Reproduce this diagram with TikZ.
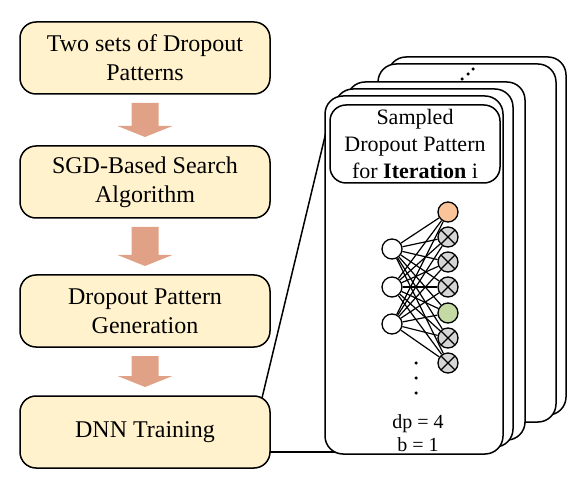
\documentclass[tikz,border=0pt]{standalone}
\usepackage{fontspec}
\setmainfont{Liberation Serif}
\usetikzlibrary{calc}
\definecolor{boxfill}{HTML}{FFF2CC}
\definecolor{arrowc}{HTML}{E0A186}
\definecolor{outorange}{HTML}{F9C49A}
\definecolor{outgreen}{HTML}{C4D9A3}
\definecolor{outgray}{HTML}{D6D6D6}
\newcommand\blockarrow[2]{%
  \fill[arrowc] let \p1=(#1.south), \p2=(#2.north) in
    (\x1-13.5pt,\y1-9pt) -- (\x1+13.5pt,\y1-9pt) -- (\x1+13.5pt,\y2+20pt) --
    (\x1+27.5pt,\y2+20pt) -- (\x1,\y2+9pt) -- (\x1-27.5pt,\y2+20pt) --
    (\x1-13.5pt,\y2+20pt) -- cycle;}
\begin{document}
\begin{tikzpicture}[x=1pt,y=-1pt,
  stepbox/.style={draw, line width=1.5pt, fill=boxfill, rounded corners=16pt,
    minimum width=250pt, minimum height=72pt, inner sep=0pt, outer sep=0pt,
    align=center, font=\fontsize{24}{29}\selectfont},
  card/.style={draw, line width=1.5pt, fill=white, rounded corners=18pt,
    minimum width=178pt, minimum height=358pt, inner sep=0pt, outer sep=0pt},
  header/.style={draw, line width=1.5pt, fill=white, rounded corners=16pt,
    minimum width=170pt, minimum height=78pt, inner sep=0pt, outer sep=0pt,
    align=center, font=\fontsize{22}{27}\selectfont},
  neuron/.style={circle, draw, line width=1.3pt, minimum size=20pt, inner sep=0pt},
  crossed/.style={neuron, fill=outgray, path picture={
    \draw[line width=1.3pt] (path picture bounding box.north west) -- (path picture bounding box.south east)
      (path picture bounding box.north east) -- (path picture bounding box.south west);}},
  conn/.style={line width=1.5pt},
  edge/.style={line width=1.2pt},
  dotc/.style={circle, fill=black, inner sep=0pt, minimum size=3.5pt}
]
\useasboundingbox (0,0) rectangle (581,486);

% connector lines (behind cards)
\coordinate (c1) at (262,398);
\coordinate (c2) at (327,128);
\coordinate (c3) at (268,452);
\coordinate (c4) at (345,452);
\draw[conn] (c1) -- (c2);
\draw[conn] (c3) -- (c4);

% left flow
\node[stepbox] (s1) at (145,58) {Two sets of Dropout\\Patterns};
\node[stepbox] (s2) at (145,182) {SGD-Based Search\\Algorithm};
\node[stepbox] (s3) at (145,311) {Dropout Pattern\\Generation};
\node[stepbox] (s4) at (145,432) {DNN Training};
\blockarrow{s1}{s2}
\blockarrow{s2}{s3}
\blockarrow{s3}{s4}

% stacked cards
\node[card] (b0) at (477,236) {};
\node[card] (b1) at (467,243) {};
\node[dotc] (d1) at (462,79) {};
\node[dotc] (d2) at (468,74) {};
\node[dotc] (d3) at (473,69) {};
\node[card] (f2) at (436,261) {};
\node[card] (f1) at (424,268) {};
\node[card] (f0) at (414,275) {};
\node[header] (hd) at (415,144) {Sampled\\Dropout Pattern\\for \textbf{Iteration} i};

% network
\node[neuron, fill=white] (i1) at (392,249) {};
\node[neuron, fill=white] (i2) at (392,287) {};
\node[neuron, fill=white] (i3) at (392,324) {};
\node[neuron, fill=outorange] (o1) at (448,212) {};
\node[crossed] (o2) at (448,237) {};
\node[crossed] (o3) at (448,262) {};
\node[crossed] (o4) at (448,287) {};
\node[neuron, fill=outgreen] (o5) at (448,313) {};
\node[crossed] (o6) at (448,338) {};
\node[crossed] (o7) at (448,363) {};
\foreach \i in {1,2,3}{\foreach \o in {1,...,7}{\draw[edge] (i\i) -- (o\o);}}

\node[dotc] (v1) at (416,363) {};
\node[dotc] (v2) at (416,378) {};
\node[dotc] (v3) at (416,393) {};
\node[align=center, font=\fontsize{20}{23}\selectfont] (dp) at (418,433) {dp = 4\\b = 1};
\end{tikzpicture}
\end{document}
